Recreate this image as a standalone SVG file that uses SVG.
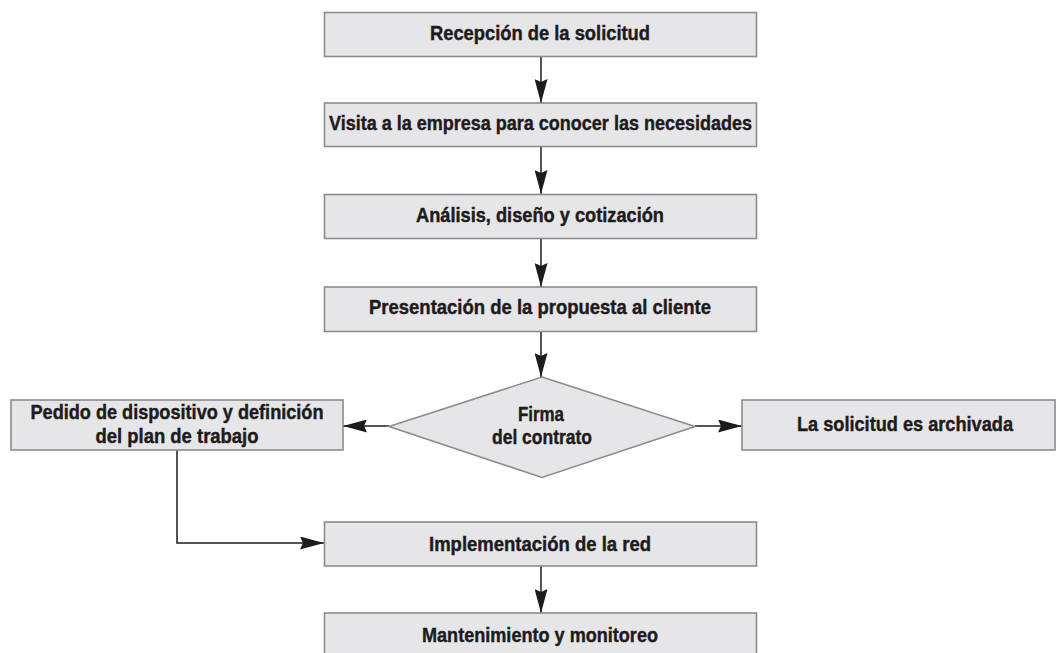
<svg xmlns="http://www.w3.org/2000/svg" width="1056" height="653" viewBox="0 0 1056 653">
<defs>
<style>
.box{fill:#e6e6e8;stroke:#8c8c8c;stroke-width:1.6}
.lbl{font-family:"Liberation Sans",Arial,sans-serif;font-weight:bold;font-size:21px;fill:#1f1b1c;stroke:#1f1b1c;stroke-width:0.45;text-anchor:middle}
.con{fill:none;stroke:#1f1b1c;stroke-width:1.5}
</style>
<marker id="ah" markerUnits="userSpaceOnUse" markerWidth="24" markerHeight="13" refX="24" refY="6.5" orient="auto">
<path d="M0,0 L24,6.5 L0,13 L3,6.5 z" fill="#1f1b1c"/>
</marker>
</defs>
<rect width="1056" height="653" fill="#ffffff"/>
<g id="connectors">
<line class="con" x1="541" y1="57" x2="541" y2="103" marker-end="url(#ah)"/>
<line class="con" x1="541" y1="147" x2="541" y2="194" marker-end="url(#ah)"/>
<line class="con" x1="541" y1="239" x2="541" y2="287" marker-end="url(#ah)"/>
<line class="con" x1="541" y1="332" x2="541" y2="377" marker-end="url(#ah)"/>
<line class="con" x1="389" y1="426" x2="343" y2="426" marker-end="url(#ah)"/>
<line class="con" x1="695" y1="426" x2="742" y2="426" marker-end="url(#ah)"/>
<path class="con" d="M177,450 V543 H324" marker-end="url(#ah)"/>
<line class="con" x1="541" y1="566" x2="541" y2="613" marker-end="url(#ah)"/>
</g>
<g id="n1">
<rect class="box" x="324.5" y="12.5" width="432" height="44"/>
<text class="lbl" x="540" y="40" textLength="220" lengthAdjust="spacingAndGlyphs">Recepción de la solicitud</text>
</g>
<g id="n2">
<rect class="box" x="324.5" y="103" width="432" height="43.5"/>
<text class="lbl" x="540.5" y="130" textLength="423" lengthAdjust="spacingAndGlyphs">Visita a la empresa para conocer las necesidades</text>
</g>
<g id="n3">
<rect class="box" x="324.5" y="194.5" width="432" height="44"/>
<text class="lbl" x="540" y="222" textLength="248" lengthAdjust="spacingAndGlyphs">Análisis, diseño y cotización</text>
</g>
<g id="n4">
<rect class="box" x="324.5" y="287" width="432" height="44.5"/>
<text class="lbl" x="540" y="314" textLength="342" lengthAdjust="spacingAndGlyphs">Presentación de la propuesta al cliente</text>
</g>
<g id="n5">
<polygon class="box" points="542,377 695,426.5 542,477.5 389,426.5"/>
<text class="lbl" x="541" y="421" textLength="46" lengthAdjust="spacingAndGlyphs">Firma</text>
<text class="lbl" x="542" y="444" textLength="100" lengthAdjust="spacingAndGlyphs">del contrato</text>
</g>
<g id="n6">
<rect class="box" x="11" y="400" width="332" height="50"/>
<text class="lbl" x="177" y="419" textLength="293" lengthAdjust="spacingAndGlyphs">Pedido de dispositivo y definición</text>
<text class="lbl" x="177" y="443" textLength="163" lengthAdjust="spacingAndGlyphs">del plan de trabajo</text>
</g>
<g id="n7">
<rect class="box" x="742" y="400" width="313" height="50"/>
<text class="lbl" x="905" y="431" textLength="216" lengthAdjust="spacingAndGlyphs">La solicitud es archivada</text>
</g>
<g id="n8">
<rect class="box" x="324.5" y="522" width="432" height="44"/>
<text class="lbl" x="540" y="551" textLength="222" lengthAdjust="spacingAndGlyphs">Implementación de la red</text>
</g>
<g id="n9">
<rect class="box" x="324.5" y="613" width="432" height="50"/>
<text class="lbl" x="540" y="642" textLength="236" lengthAdjust="spacingAndGlyphs">Mantenimiento y monitoreo</text>
</g>
</svg>
